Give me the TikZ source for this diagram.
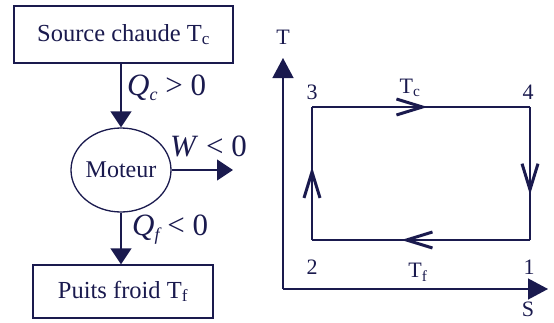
\documentclass[tikz,border=0pt]{standalone}
\usepackage{fontspec}
\setmainfont{Liberation Serif}
\usetikzlibrary{arrows.meta,shapes.geometric,decorations.markings}
\definecolor{ink}{RGB}{26,26,78}
\tikzset{
    line/.style={draw=ink,line width=1.3pt},
    every node/.style={text=ink},
    flow/.style={line,-{Triangle[length=16pt,width=21pt]}},
    axis/.style={line,-{Triangle[length=20pt,width=21pt]}},
    box/.style={line,font=\fontsize{24.5}{28}\selectfont},
    motor/.style={ellipse,line,minimum width=100pt,minimum height=84pt,inner sep=0pt,font=\fontsize{24}{28}\selectfont},
    lab/.style={font=\fontsize{31}{34}\selectfont,inner sep=0pt},
    pt/.style={font=\fontsize{22}{26}\selectfont,inner sep=0pt},
    midarrow/.style={line,postaction={decorate},decoration={markings,
        mark=at position #1 with {\arrow{Straight Barb[length=26pt,width=16pt,line width=3pt]}}}}
}
\newcommand{\sub}[1]{\raisebox{-0.35ex}{\fontsize{18}{20}\selectfont\itshape #1}}
\begin{document}
\begin{tikzpicture}[x=1pt,y=-1pt]
\useasboundingbox (0,0) rectangle (554,322);
% moteur
\node[box,minimum width=219pt,minimum height=57pt] (chaud) at (123.5,34.5) {Source chaude T\textsubscript{c}};
\node[motor] (moteur) at (121,170) {Moteur};
\node[box,minimum width=180pt,minimum height=53pt] (froid) at (123,291.5) {Puits froid T\textsubscript{f}};
\coordinate (wend) at (233,170);
\draw[flow] (chaud.south -| moteur.north) -- (moteur.north);
\draw[flow] (moteur.east) -- (wend);
\draw[flow] (moteur.south) -- (moteur.south |- froid.north);
\node[lab,anchor=west] (qc) at (127,88) {\textit{Q}\sub{c} > 0};
\node[lab,anchor=west] (w) at (170,146) {\textit{W} < 0};
\node[lab,anchor=west] (qf) at (132,230) {\textit{Q}\sub{f} < 0};
% diagramme T-S
\coordinate (O) at (283,289);
\coordinate (Ttip) at (283,58);
\coordinate (Stip) at (548,289);
\draw[axis] (O) -- (Ttip);
\draw[axis] (O) -- (Stip);
\node[pt] (T) at (283,37) {T};
\node[pt] (S) at (528,309) {S};
\coordinate (p1) at (530,240);
\coordinate (p2) at (312,240);
\coordinate (p3) at (312,107);
\coordinate (p4) at (530,107);
\foreach \a/\b/\pos in {p2/p3/0.55,p3/p4/0.53,p4/p1/0.66,p1/p2/0.59}
    \draw[midarrow=\pos] (\a) -- (\b);
\foreach \n/\x/\y in {1/529/267,2/312/267,3/312/92,4/528/92}
    \node[pt] (l\n) at (\x,\y) {\n};
\node[pt] (tc) at (410,88) {T\textsubscript{c}};
\node[pt] (tf) at (418,272) {T\textsubscript{f}};
\end{tikzpicture}
\end{document}
